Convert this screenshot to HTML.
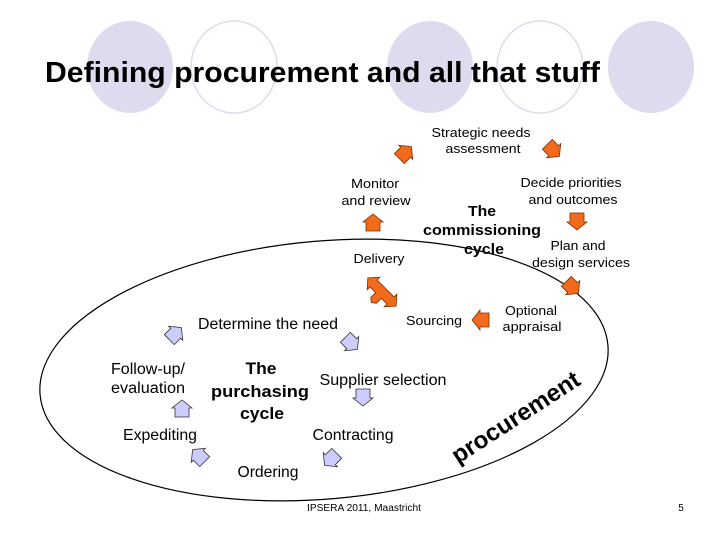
<!DOCTYPE html>
<html><head><meta charset="utf-8"><style>
html,body{margin:0;padding:0;background:#fff}
svg{display:block}
text{font-family:"Liberation Sans",sans-serif;fill:#000}
</style></head><body>
<svg width="728" height="546" viewBox="0 0 728 546" xmlns="http://www.w3.org/2000/svg">
<defs>
<polygon id="ar" points="-8,-7 1,-7 1,-10 9,0 1,10 1,7 -8,7"/>
</defs>
<g fill="#dcdcee">
<ellipse cx="130" cy="67" rx="43" ry="46"/>
<ellipse cx="430" cy="67" rx="43" ry="46"/>
<ellipse cx="651" cy="67" rx="43" ry="46"/>
</g>
<g fill="none" stroke="#dcdcee" stroke-width="1.5">
<ellipse cx="234" cy="67" rx="43" ry="46"/>
<ellipse cx="540" cy="67" rx="43" ry="46"/>
</g>
<text x="45" y="82" font-size="29" font-weight="bold" textLength="555" lengthAdjust="spacingAndGlyphs">Defining procurement and all that stuff</text>

<ellipse cx="324" cy="370" rx="285" ry="129" transform="rotate(-5 324 370)" fill="none" stroke="#000" stroke-width="1.2"/>

<g font-size="13" text-anchor="middle">
<text x="481" y="137" textLength="99" lengthAdjust="spacingAndGlyphs">Strategic needs</text>
<text x="483" y="153" textLength="75" lengthAdjust="spacingAndGlyphs">assessment</text>
<text x="375" y="188" textLength="48" lengthAdjust="spacingAndGlyphs">Monitor</text>
<text x="376" y="205" textLength="69" lengthAdjust="spacingAndGlyphs">and review</text>
<text x="571" y="187" textLength="101" lengthAdjust="spacingAndGlyphs">Decide priorities</text>
<text x="573" y="204" textLength="89" lengthAdjust="spacingAndGlyphs">and outcomes</text>
<text x="578" y="250" textLength="55" lengthAdjust="spacingAndGlyphs">Plan and</text>
<text x="581" y="267" textLength="98" lengthAdjust="spacingAndGlyphs">design services</text>
<text x="379" y="263" textLength="51" lengthAdjust="spacingAndGlyphs">Delivery</text>
<text x="434" y="325" textLength="56" lengthAdjust="spacingAndGlyphs">Sourcing</text>
<text x="531" y="315" textLength="52" lengthAdjust="spacingAndGlyphs">Optional</text>
<text x="532" y="331" textLength="59" lengthAdjust="spacingAndGlyphs">appraisal</text>
</g>
<g font-size="15" font-weight="bold" text-anchor="middle">
<text x="482" y="216" textLength="28" lengthAdjust="spacingAndGlyphs">The</text>
<text x="482" y="235" textLength="118" lengthAdjust="spacingAndGlyphs">commissioning</text>
<text x="484" y="254" textLength="40" lengthAdjust="spacingAndGlyphs">cycle</text>
</g>
<g font-size="15.5" text-anchor="middle">
<text x="268" y="329" textLength="140" lengthAdjust="spacingAndGlyphs">Determine the need</text>
<text x="148" y="374" textLength="74" lengthAdjust="spacingAndGlyphs">Follow-up/</text>
<text x="148" y="393" textLength="74" lengthAdjust="spacingAndGlyphs">evaluation</text>
<text x="383" y="385" textLength="127" lengthAdjust="spacingAndGlyphs">Supplier selection</text>
<text x="160" y="440" textLength="74" lengthAdjust="spacingAndGlyphs">Expediting</text>
<text x="353" y="440" textLength="81" lengthAdjust="spacingAndGlyphs">Contracting</text>
<text x="268" y="477" textLength="61" lengthAdjust="spacingAndGlyphs">Ordering</text>
</g>
<g font-size="17" font-weight="bold" text-anchor="middle">
<text x="261" y="374" textLength="31" lengthAdjust="spacingAndGlyphs">The</text>
<text x="260" y="397" textLength="98" lengthAdjust="spacingAndGlyphs">purchasing</text>
<text x="262" y="419" textLength="44" lengthAdjust="spacingAndGlyphs">cycle</text>
</g>
<text x="0" y="0" font-size="24" font-weight="bold" text-anchor="middle" textLength="148" lengthAdjust="spacingAndGlyphs" transform="translate(520 424) rotate(-33)">procurement</text>

<g fill="#f26a1b" stroke="#7a3000" stroke-width="0.8">
<use href="#ar" transform="translate(405,153) rotate(-45)"/>
<use href="#ar" transform="translate(553,150) rotate(45)"/>
<use href="#ar" transform="translate(373,223) rotate(-90)"/>
<use href="#ar" transform="translate(577,221) rotate(90)"/>
<use href="#ar" transform="translate(572,287) rotate(45)"/>
<use href="#ar" transform="translate(481,320) rotate(180)"/>
<g transform="translate(382,292) rotate(45)">
<polygon points="-20,0 -12,-9 -12,-5 12,-5 12,-9 20,0 12,9 12,5 4,5 4,12 0,15 -4,12 -4,5 -12,5 -12,9"/>
</g>
</g>
<g fill="#ccccff" stroke="#333" stroke-width="0.8">
<use href="#ar" transform="translate(175,334) rotate(-45)"/>
<use href="#ar" transform="translate(351,343) rotate(45)"/>
<use href="#ar" transform="translate(363,397) rotate(90)"/>
<use href="#ar" transform="translate(331,459) rotate(135)"/>
<use href="#ar" transform="translate(199,456) rotate(-135)"/>
<use href="#ar" transform="translate(182,409) rotate(-90)"/>
</g>

<text x="364" y="511" font-size="10" text-anchor="middle" textLength="114" lengthAdjust="spacingAndGlyphs">IPSERA 2011, Maastricht</text>
<text x="681" y="511" font-size="10" text-anchor="middle">5</text>
</svg>
</body></html>
